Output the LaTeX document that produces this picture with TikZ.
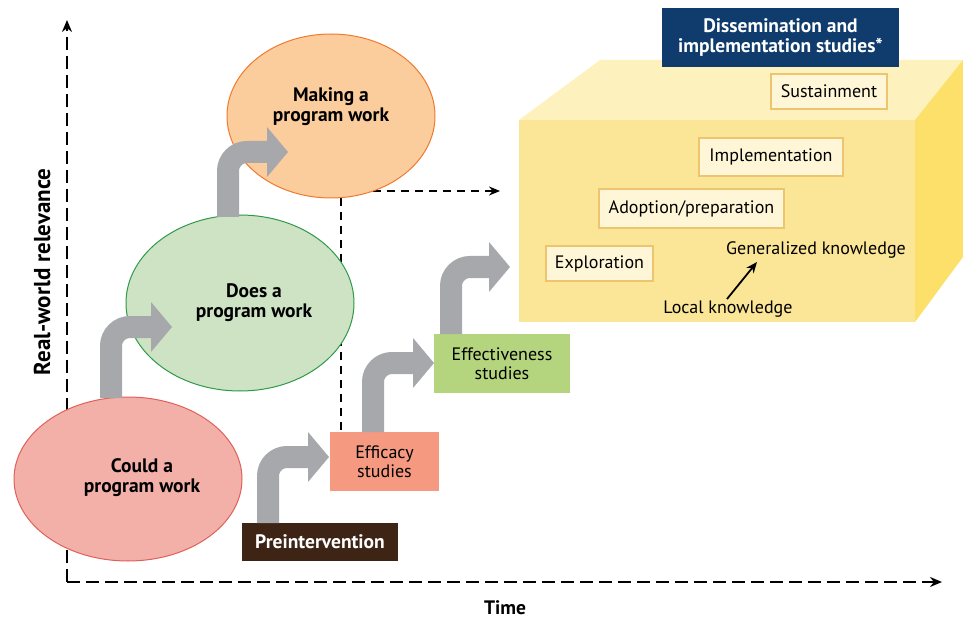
\documentclass[tikz,border=0pt]{standalone}
\usepackage{fontspec}
\setmainfont{PT Sans}
\usetikzlibrary{arrows.meta,backgrounds,calc,positioning,shapes.geometric}

\definecolor{couldfill}{HTML}{F2B0A8}
\definecolor{couldline}{HTML}{E0605A}
\definecolor{doesfill}{HTML}{CDE3C4}
\definecolor{doesline}{HTML}{2E9A48}
\definecolor{makingfill}{HTML}{FBCC9C}
\definecolor{makingline}{HTML}{F07A30}
\definecolor{arrowgray}{HTML}{A7A8AB}
\definecolor{prefill}{HTML}{3D2415}
\definecolor{efficacyfill}{HTML}{F59A80}
\definecolor{effectfill}{HTML}{B4D57D}
\definecolor{navy}{HTML}{0F3C6C}
\definecolor{phasefill}{HTML}{FEF6D6}
\definecolor{phaseline}{HTML}{EDC56E}
\definecolor{boxfront}{HTML}{FBE596}
\definecolor{boxtop}{HTML}{FDF2BD}
\definecolor{boxside}{HTML}{FCE06A}

\tikzset{
  stage/.style={ellipse,inner sep=0pt,line width=1pt},
  bigtext/.style={font=\bfseries\fontsize{19.5}{20}\selectfont,align=center},
  plain/.style={font=\fontsize{18}{18.5}\selectfont,align=center,inner sep=0pt},
  study/.style={rectangle,inner sep=0pt,align=center,font=\fontsize{18}{18.5}\selectfont},
  phase/.style={rectangle,draw=phaseline,fill=phasefill,line width=1.2pt,inner sep=0pt,font=\fontsize{18}{18.5}\selectfont},
  bigarrow/.style={draw=arrowgray,line width=22pt,rounded corners=19pt},
  dashline/.style={line width=2.4pt,dash pattern=on 8pt off 6pt},
  axisline/.style={line width=2.4pt,dash pattern=on 13pt off 6pt,-{Stealth[length=12pt,width=10pt]}},
}

\begin{document}
\begin{tikzpicture}[x=1pt,y=-1pt]
	\useasboundingbox (0,0) rectangle (963,620);
	% the block
	\fill[boxfront] (519,120) rectangle (915,322);
	\fill[boxtop] (519,120) -- (600,60) -- (963,60) -- (915,120) -- cycle;
	\fill[boxside] (915,120) -- (963,60) -- (963,257) -- (915,322) -- cycle;
	% questions
	\node[stage,fill=couldfill,draw=couldline,minimum width=228pt,minimum height=164pt] (could) at (128,479) {};
	\node[stage,fill=doesfill,draw=doesline,minimum width=228pt,minimum height=176pt] (does) at (240,303) {};
	\node[stage,fill=makingfill,draw=makingline,minimum width=208pt,minimum height=164pt] (making) at (331,116) {};
	\node[bigtext] (couldtext) at (142,478) {Could a\\program work};
	\node[bigtext] (doestext) at (254,303) {Does a\\program work};
	\node[bigtext] (makingtext) at (331,107) {Making a\\program work};
	% studies
	\node[study,fill=prefill,text=white,font=\bfseries\fontsize{19.5}{20}\selectfont,minimum width=156pt,minimum height=38pt] (pre) at (320,542) {Preintervention};
	\node[study,fill=efficacyfill,minimum width=109pt,minimum height=59pt] (efficacy) at (384.5,461.5) {Efficacy\\studies};
	\node[study,fill=effectfill,minimum width=136pt,minimum height=59pt] (effect) at (502,363.5) {Effectiveness\\studies};
	\node[study,fill=navy,text=white,font=\bfseries\fontsize{19.5}{20}\selectfont,minimum width=237pt,minimum height=59pt] (dissem) at (780.5,37.5) {Dissemination and\\implementation studies*};
	% phases
	\node[phase,minimum width=116pt,minimum height=35pt] (sustain) at (829,91.5) {Sustainment};
	\node[phase,minimum width=144pt,minimum height=38pt] (implement) at (771,157) {Implementation};
	\node[phase,minimum width=185pt,minimum height=39pt] (adopt) at (691.5,208.5) {Adoption/preparation};
	\node[phase,minimum width=107pt,minimum height=35pt] (explore) at (599.5,263.5) {Exploration};
	\node[plain] (general) at (816,250) {Generalized knowledge};
	\node[plain] (local) at (728,309) {Local knowledge};
	\coordinate (klow) at (727,299);
	\coordinate (khigh) at (757,262);
	\draw[line width=1.8pt,-{Stealth[length=11pt,width=9pt]}] (klow) -- (khigh);
	% grey arrows
	\coordinate (tail1) at (111,398); \coordinate (tip1) at (172,327);
	\coordinate (tail2) at (228,217); \coordinate (tip2) at (288,152);
	\coordinate (tail3) at (268,523); \coordinate (tip3) at (329,457);
	\coordinate (tail4) at (373,432); \coordinate (tip4) at (434,363);
	\coordinate (tail5) at (451,334); \coordinate (tip5) at (510,267);
	\foreach \n in {1,...,5}{
		\draw[bigarrow] (tail\n) |- ($(tip\n)+(-20,0)$);
		\fill[arrowgray] ($(tip\n)+(-21,-25)$) -- (tip\n) -- ($(tip\n)+(-21,25)$) -- cycle;
	}
	% axes and dashed lines
	\begin{scope}[on background layer]
		\coordinate (origin) at (67,582);
		\coordinate (yend) at (67,20);
		\coordinate (xend) at (942,582);
		\draw[axisline] (origin) -- (yend);
		\draw[axisline] (origin) -- (xend);
		\coordinate (drop) at (341,198);
		\draw[dashline] (drop) -- (drop |- efficacy.north);
		\coordinate (reach) at (500,191);
		\draw[dashline,-{Stealth[length=11pt,width=9pt]}] (making.center |- reach) -- (reach);
	\end{scope}
	\node[bigtext,rotate=90,font=\bfseries\fontsize{23}{23}\selectfont] (ylabel) at (42,272) {Real-world relevance};
	\node[bigtext] (xlabel) at (505,608) {Time};
\end{tikzpicture}
\end{document}
